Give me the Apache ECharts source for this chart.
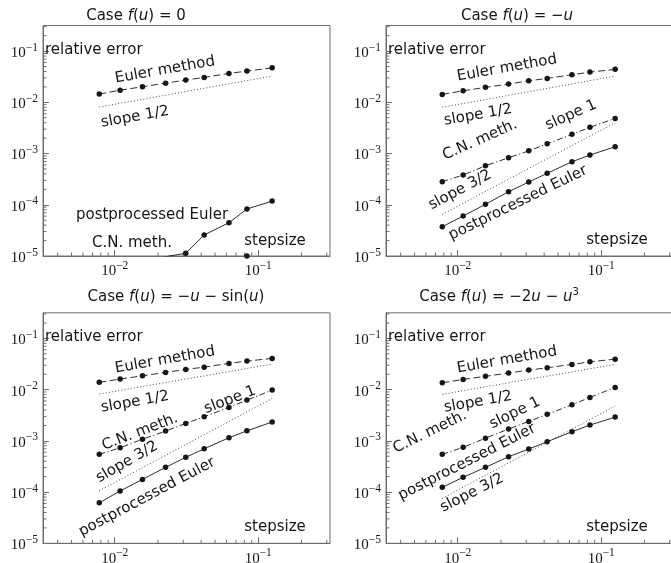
<!DOCTYPE html>
<html><head><meta charset="utf-8">
<script src="https://cdn.jsdelivr.net/npm/echarts@6/dist/echarts.min.js"></script>
<style>html,body{margin:0;padding:0;background:#fff}#c{width:671px;height:563px}</style>
</head><body><div id="c"></div>
<script>
// ---- data ----
const stepsizes = [0.0078, 0.0109, 0.0156, 0.0226, 0.03125, 0.042, 0.0625, 0.0834, 0.125];

const euler1 = [0.0145, 0.0173, 0.0201, 0.0237, 0.0272, 0.0307, 0.0367, 0.0407, 0.0472];
const cn1    = [2.0e-6, 3.0e-6, 1.5e-6, 4.0e-6, 2.5e-6, 5.0e-6, 3.0e-6, 1.0e-5, 4.0e-6];
const pp1    = [2.0e-6, 4.0e-6, 6.0e-6, 9.7e-6, 1.13e-5, 2.57e-5, 4.47e-5, 8.26e-5, 1.18e-4];
const half1  = [0.0081, 0.0325];

const euler2 = [0.0143, 0.0168, 0.0196, 0.0227, 0.0263, 0.0293, 0.0345, 0.0389, 0.0440];
const cn2    = [2.82e-4, 3.80e-4, 5.78e-4, 8.28e-4, 1.13e-3, 1.55e-3, 2.37e-3, 3.25e-3, 4.86e-3];
const pp2    = [3.73e-5, 6.03e-5, 1.02e-4, 1.80e-4, 2.78e-4, 4.11e-4, 6.92e-4, 9.35e-4, 1.36e-3];
const half2  = [0.0080, 0.0325];
const three2 = [6.5e-5, 4.0e-3];

const euler3 = [0.01387, 0.0161, 0.0186, 0.0217, 0.0248, 0.0275, 0.0325, 0.0361, 0.0407];
const cn3    = [5.45e-4, 7.32e-4, 1.08e-3, 1.55e-3, 2.19e-3, 2.95e-3, 4.50e-3, 6.25e-3, 9.79e-3];
const pp3    = [6.19e-5, 1.05e-4, 1.77e-4, 3.04e-4, 4.77e-4, 7.0e-4, 1.15e-3, 1.57e-3, 2.33e-3];
const half3  = [0.0082, 0.0315];
const three3 = [1.06e-4, 6.74e-3];

const euler4 = [0.0136, 0.0158, 0.0182, 0.0211, 0.0241, 0.0267, 0.0311, 0.0349, 0.0394];
const cn4    = [5.45e-4, 7.47e-4, 1.13e-3, 1.70e-3, 2.40e-3, 3.29e-3, 5.06e-3, 7.06e-3, 0.01106];
const pp4    = [1.24e-4, 1.94e-4, 3.04e-4, 4.90e-4, 6.92e-4, 9.6e-4, 1.51e-3, 2.03e-3, 2.91e-3];
const half4  = [0.0081, 0.0311];
const three4 = [7.55e-5, 4.78e-3];

const xMinorTicks = [0.004,0.005,0.006,0.007,0.008,0.009,0.02,0.03,0.04,0.05,0.06,0.07,0.08,0.09,0.2,0.3];
const yMinorTicks = [2e-5,3e-5,4e-5,5e-5,6e-5,7e-5,8e-5,9e-5,2e-4,3e-4,4e-4,5e-4,6e-4,7e-4,8e-4,9e-4,
                     2e-3,3e-3,4e-3,5e-3,6e-3,7e-3,8e-3,9e-3,2e-2,3e-2,4e-2,5e-2,6e-2,7e-2,8e-2,9e-2,0.2,0.3];
const X_MIN = 0.0031623, X_MAX = 0.31623, Y_MIN = 1e-5, Y_MAX = 0.31623;

// ---- layout ----
const grids = [
  {left: 43,  top: 25.5,  width: 287, height: 230.5},
  {left: 386, top: 25.5,  width: 287, height: 230.5},
  {left: 43,  top: 312.8, width: 287, height: 230.5},
  {left: 386, top: 312.8, width: 287, height: 230.5}
];
const AX = '#6e6e6e', INK = '#161616';
const SANS = 'DejaVu Sans';

const expLabel = v => {
  const e = Math.round(Math.log10(v));
  return '{b|10}{s|' + (e < 0 ? '\u2212' + (-e) : e) + '}';
};
const labelRich = {
  b: {fontFamily: 'Liberation Serif', fontSize: 15, color: INK, verticalAlign: 'bottom', lineHeight: 19},
  s: {fontFamily: 'Liberation Serif', fontSize: 11.5, color: INK, verticalAlign: 'bottom', lineHeight: 19, padding: [0, 0, 7, 0]}
};

const xAxes = grids.map((g, i) => ({
  type: 'log', logBase: 10, gridIndex: i, min: X_MIN, max: X_MAX,
  axisLine: {show: true, lineStyle: {color: AX, width: 1}},
  axisTick: {show: true, inside: true, length: 6, lineStyle: {color: AX}},
  splitLine: {show: false},
  axisLabel: {show: true, showMinLabel: false, showMaxLabel: false, margin: 4, formatter: expLabel, rich: labelRich}
}));
const yAxes = grids.map((g, i) => ({
  type: 'log', logBase: 10, gridIndex: i, min: Y_MIN, max: Y_MAX,
  axisLine: {show: true, lineStyle: {color: AX, width: 1}},
  axisTick: {show: true, inside: true, length: 6, lineStyle: {color: AX}},
  splitLine: {show: false},
  axisLabel: {show: true, showMinLabel: true, showMaxLabel: false, margin: 5, formatter: expLabel, rich: labelRich}
}));

function lineSeries(gi, ys, dash) {
  return {
    type: 'line', xAxisIndex: gi, yAxisIndex: gi, clip: true,
    data: ys.map((y, k) => [stepsizes[k], y]),
    symbol: 'circle', symbolSize: 5.5, showSymbol: true,
    itemStyle: {color: INK},
    lineStyle: {color: INK, width: 0.9, type: dash},
    silent: true, animation: false
  };
}
function refSeries(gi, ends) {
  return {
    type: 'line', xAxisIndex: gi, yAxisIndex: gi, clip: true,
    data: [[stepsizes[0], ends[0]], [stepsizes[stepsizes.length - 1], ends[1]]],
    symbol: 'none', showSymbol: false,
    lineStyle: {color: '#333', width: 0.9, type: [1, 2.2]},
    silent: true, animation: false
  };
}
function tickSeries(gi, vals, dir, len) {
  return {
    type: 'custom', xAxisIndex: gi, yAxisIndex: gi, silent: true, clip: false, animation: false,
    data: vals.map(v => dir === 'x' ? [v, Y_MIN] : [X_MIN, v]),
    renderItem: (params, api) => {
      const p = api.coord([api.value(0), api.value(1)]);
      const shape = dir === 'x'
        ? {x1: p[0], y1: p[1], x2: p[0], y2: p[1] - len}
        : {x1: p[0], y1: p[1], x2: p[0] + len, y2: p[1]};
      return {type: 'line', shape: shape, style: {stroke: AX, lineWidth: 1}};
    }
  };
}

const DASH = [7, 3.5], DASHDOT = [6, 2.5, 1.2, 2.5];
const panels = [
  {e: euler1, c: cn1, p: pp1, h: half1, t: null},
  {e: euler2, c: cn2, p: pp2, h: half2, t: three2},
  {e: euler3, c: cn3, p: pp3, h: half3, t: three3},
  {e: euler4, c: cn4, p: pp4, h: half4, t: three4}
];
const series = [];
panels.forEach((pn, i) => {
  series.push(tickSeries(i, xMinorTicks, 'x', 3.5));
  series.push(tickSeries(i, yMinorTicks, 'y', 3.5));
  series.push(refSeries(i, pn.h));
  if (pn.t) series.push(refSeries(i, pn.t));
  series.push(lineSeries(i, pn.e, DASH));
  series.push(lineSeries(i, pn.c, DASHDOT));
  series.push(lineSeries(i, pn.p, 'solid'));
});

// ---- annotations ----
const deg = d => d * Math.PI / 180;
function txt(x, y, text, rot, size) {
  return {type: 'text', x: x, y: y, rotation: deg(rot || 0), silent: true, z: 10,
    style: {text: text, font: (size || 15) + 'px "' + SANS + '"', fill: INK, align: 'center', verticalAlign: 'middle'}};
}
function leftTxt(x, y, text) {
  return {type: 'text', x: x, y: y, silent: true, z: 10,
    style: {text: text, font: '15px "' + SANS + '"', fill: INK, align: 'left', verticalAlign: 'middle'}};
}
function title(x, y, parts) {
  return {type: 'text', x: x, y: y, silent: true, z: 10,
    style: {text: parts, align: 'center', verticalAlign: 'middle', fill: INK,
      rich: {
        n: {fontFamily: SANS, fontSize: 15, color: INK, verticalAlign: 'bottom', lineHeight: 19},
        i: {fontFamily: SANS, fontStyle: 'italic', fontSize: 15, color: INK, verticalAlign: 'bottom', lineHeight: 19},
        s: {fontFamily: SANS, fontSize: 10, color: INK, verticalAlign: 'bottom', lineHeight: 19, padding: [0, 0, 7, 0]}
      }}};
}
const graphics = [
  title(136, 14, '{n|Case }{i|f}{n|(}{i|u}{n|) = 0}'),
  title(517, 14, '{n|Case }{i|f}{n|(}{i|u}{n|) = \u2212}{i|u}'),
  title(176, 295, '{n|Case }{i|f}{n|(}{i|u}{n|) = \u2212}{i|u}{n| \u2212 sin(}{i|u}{n|)}'),
  title(499, 295, '{n|Case }{i|f}{n|(}{i|u}{n|) = \u22122}{i|u}{n| \u2212 }{i|u}{s|3}'),

  // panel 1
  leftTxt(45, 50, 'relative error'),
  txt(165, 70, 'Euler method', 10),
  txt(135, 117, 'slope 1/2', 10),
  txt(152, 215, 'postprocessed Euler', 0),
  txt(132, 243, 'C.N. meth.', 0),
  txt(275, 241, 'stepsize', 0),

  // panel 2
  leftTxt(388, 50, 'relative error'),
  txt(507, 68, 'Euler method', 10),
  txt(478, 115, 'slope 1/2', 10),
  txt(480, 140, 'C.N. meth.', 24),
  txt(571, 115, 'slope 1', 24),
  txt(460, 190, 'slope 3/2', 28),
  txt(518, 203, 'postprocessed Euler', 26),
  txt(617, 240, 'stepsize', 0),

  // panel 3
  leftTxt(45, 337, 'relative error'),
  txt(165, 360, 'Euler method', 10),
  txt(135, 402, 'slope 1/2', 10),
  txt(140, 432, 'C.N. meth.', 21),
  txt(230, 400, 'slope 1', 21),
  txt(127, 462, 'slope 3/2', 30),
  txt(147, 497, 'postprocessed Euler', 28),
  txt(275, 527, 'stepsize', 0),

  // panel 4
  leftTxt(388, 337, 'relative error'),
  txt(507, 360, 'Euler method', 10),
  txt(478, 402, 'slope 1/2', 10),
  txt(430, 432, 'C.N. meth.', 26),
  txt(515, 413, 'slope 1', 26),
  txt(467, 462, 'postprocessed Euler', 27),
  txt(472, 493, 'slope 3/2', 27),
  txt(617, 527, 'stepsize', 0)
];

const chart = echarts.init(document.getElementById('c'), null, {renderer: 'canvas'});
chart.setOption({
  animation: false,
  backgroundColor: '#fff',
  grid: grids.map(g => Object.assign({show: true, borderColor: AX, borderWidth: 1, backgroundColor: 'transparent',
    containLabel: false, outerBoundsMode: 'none'}, g)),
  xAxis: xAxes,
  yAxis: yAxes,
  series: series,
  graphic: graphics
});
</script></body></html>
